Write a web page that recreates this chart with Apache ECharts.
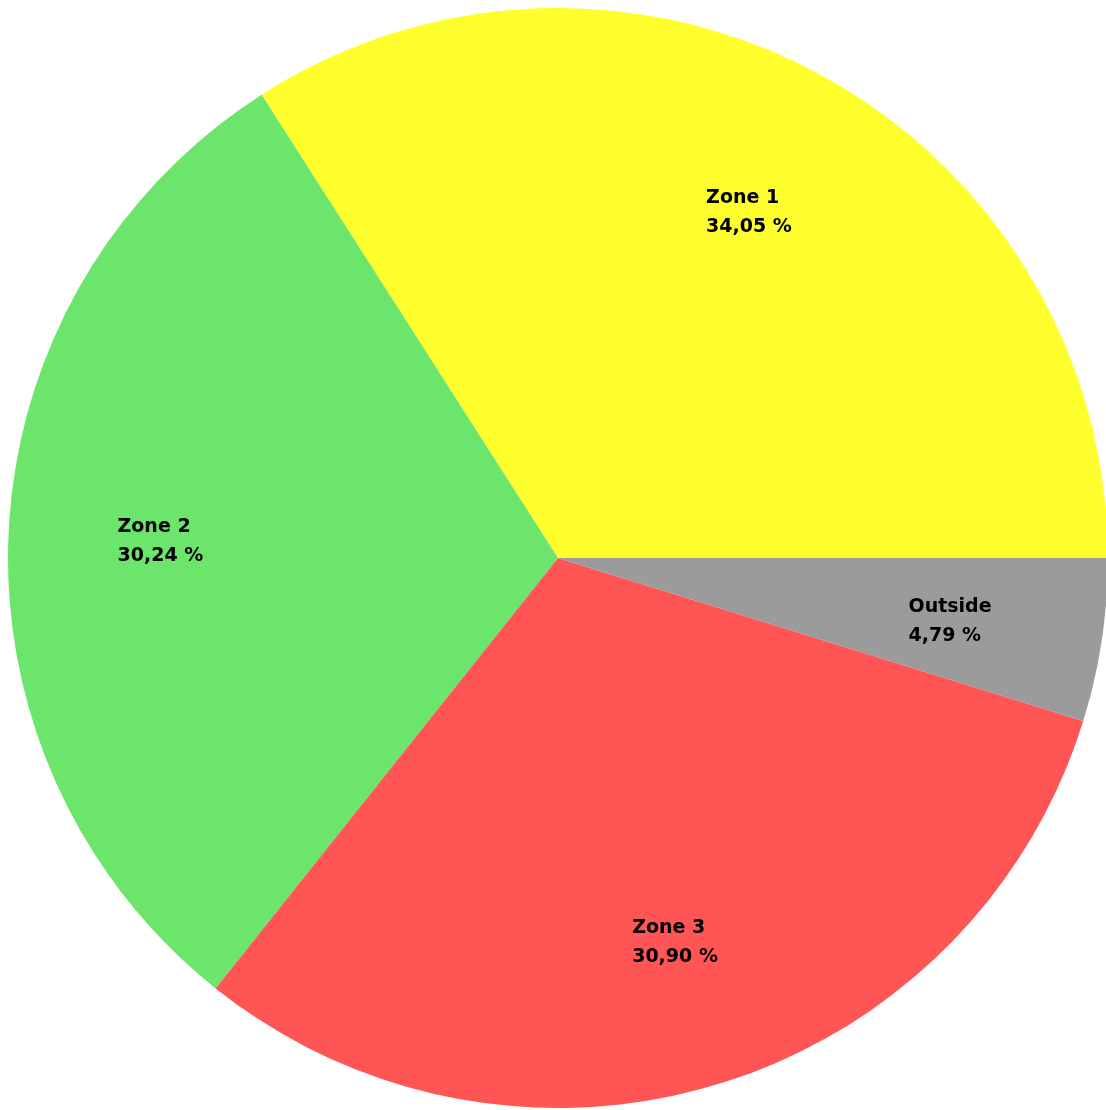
<!DOCTYPE html>
<html>
<head>
<meta charset="utf-8">
<script src="https://cdn.jsdelivr.net/npm/echarts@6/dist/echarts.min.js"></script>
<style>
html, body { margin: 0; padding: 0; background: #fff; }
#pieChart { width: 1106px; height: 1110px; }
</style>
</head>
<body>
<div id="pieChart"></div>
<script>
var zones = ['Zone 1', 'Zone 2', 'Zone 3', 'Outside'];
var shares = [34.05, 30.24, 30.90, 4.79];
var colors = ['#ffff2e', '#6ce56c', '#ff5555', '#9b9b9b'];

function showPieChart() {
	var myChart = echarts.init(document.getElementById('pieChart'));
	var data = zones.map(function (z, i) {
		return { name: z, value: shares[i], itemStyle: { color: colors[i] } };
	});
	var option = {
		animation: false,
		series: [ {
			type: 'pie',
			center: [558, 558],
			radius: [0, 550],
			startAngle: 0,
			clockwise: false,
			silent: true,
			label: { show: false },
			labelLine: { show: false },
			data: data
		}, {
			// label-only ring, so labels sit further out than the default
			type: 'pie',
			center: [558, 558],
			radius: [240, 550],
			startAngle: 0,
			clockwise: false,
			silent: true,
			itemStyle: { color: 'rgba(0,0,0,0)' },
			label: {
				show: true,
				position: 'inner',
				padding: [8, 0, 0, 0],
				formatter: function (p) {
					return '{t|' + p.name + '}\n{t|' + p.value.toFixed(2).replace('.', ',') + ' %}';
				},
				rich: {
					t: {
						width: 86,
						align: 'left',
						color: '#000',
						fontFamily: 'DejaVu Sans',
						fontWeight: 'bold',
						fontSize: 19,
						lineHeight: 29
					}
				}
			},
			labelLine: { show: false },
			data: zones.map(function (z, i) {
				return { name: z, value: shares[i] };
			})
		} ]
	};
	myChart.setOption(option);
}
showPieChart();
</script>
</body>
</html>
